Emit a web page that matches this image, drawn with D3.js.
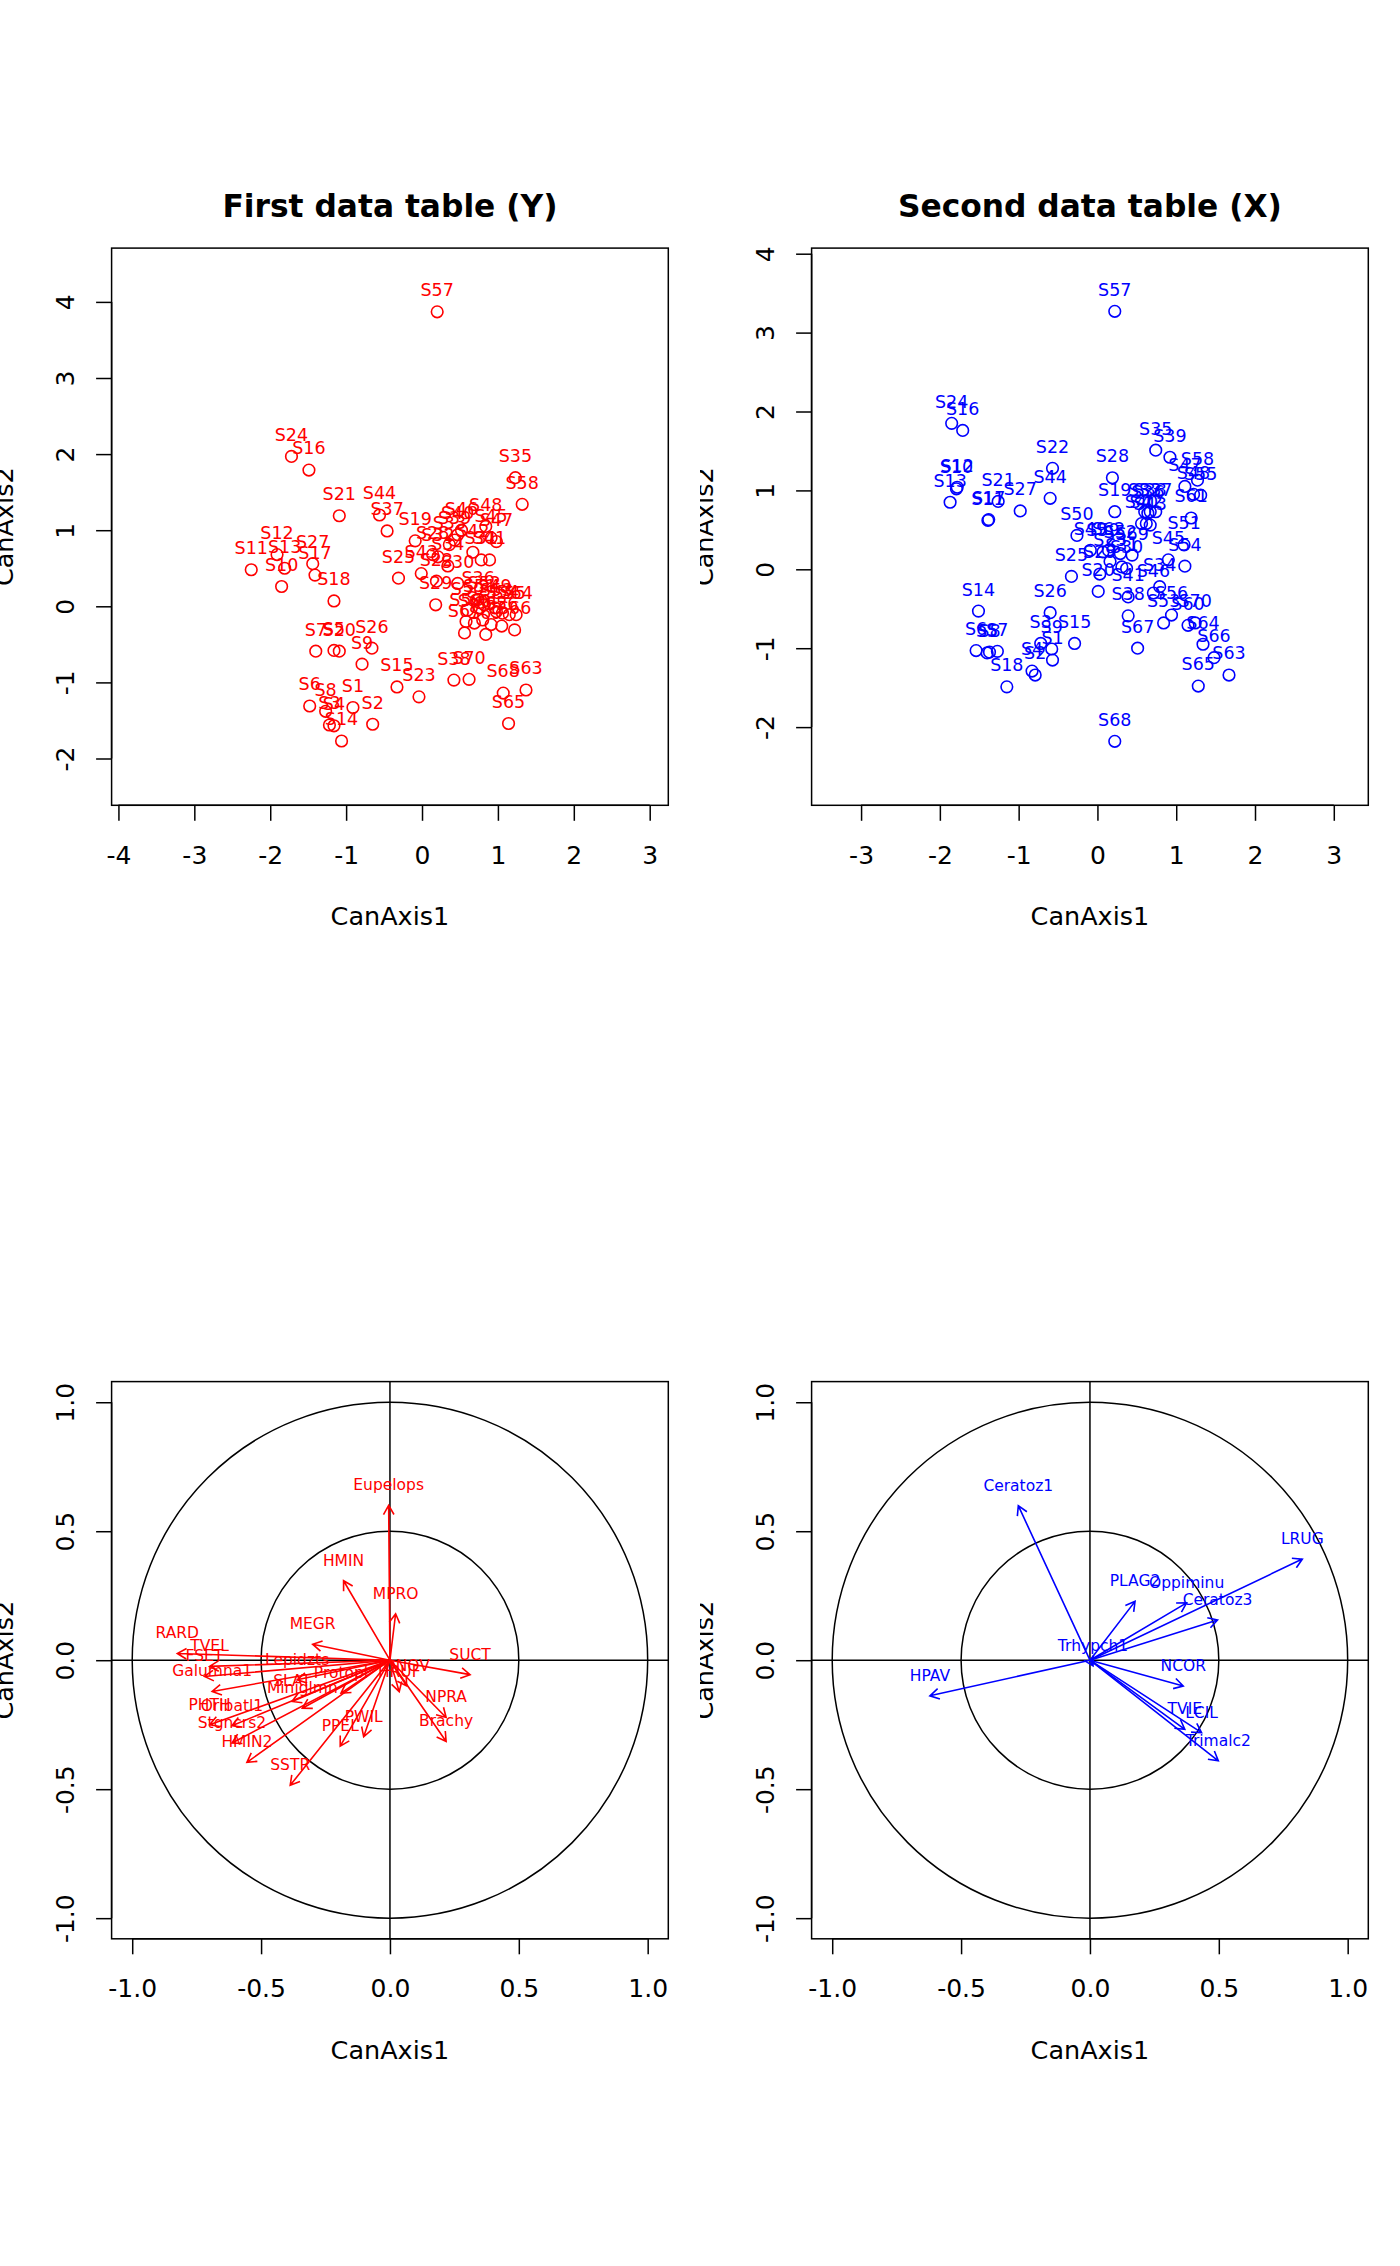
<!DOCTYPE html>
<html><head><meta charset="utf-8">
<script src="https://cdn.jsdelivr.net/npm/d3@7"></script>
<style>
html,body{margin:0;padding:0;background:#fff;}
svg{display:block;font-family:"DejaVu Sans",sans-serif;}
</style></head>
<body><svg id="chart" width="1400" height="2266"></svg>
<script>
// ---------- DATA ----------
const siteLabels = ["S1","S2","S3","S4","S5","S6","S7","S8","S9","S10","S11","S12","S13","S14","S15","S16","S17","S18","S19","S20",
"S21","S22","S23","S24","S25","S26","S27","S28","S29","S30","S31","S32","S33","S34","S35","S36","S37","S38","S39","S40",
"S41","S42","S43","S44","S45","S46","S47","S48","S49","S50","S51","S52","S53","S54","S55","S56","S57","S58","S59","S60",
"S61","S62","S63","S64","S65","S66","S67","S68","S69","S70"];

// First data table (Y): site scores
const yAxis1 = [-0.91,-0.65,-1.22,-1.16,-1.16,-1.48,-1.40,-1.27,-0.79,-1.85,-2.25,-1.91,-1.81,-1.06,-0.33,-1.49,-1.41,-1.16,-0.09,-1.09,
-1.09,0.19,-0.04,-1.72,-0.31,-0.66,-1.44,0.14,0.18,0.47,0.78,0.21,0.36,0.34,1.23,0.74,-0.46,0.42,0.43,0.47,
0.89,0.67,-0.01,-0.56,0.91,0.52,0.98,0.84,0.96,0.60,0.76,0.82,0.98,1.06,1.15,1.05,0.20,1.32,0.58,0.69,
0.80,0.91,1.37,1.24,1.14,1.22,0.56,1.07,0.84,0.62];
const yAxis2 = [-1.33,-1.55,-1.56,-1.57,-0.58,-1.31,-0.59,-1.38,-0.76,0.26,0.48,0.68,0.50,-1.77,-1.06,1.79,0.41,0.07,0.86,-0.59,
1.19,0.33,-1.19,1.97,0.37,-0.55,0.56,0.68,0.02,0.30,0.61,0.65,0.81,0.53,1.69,0.09,0.99,-0.97,0.87,0.94,
0.61,0.71,0.43,1.20,0.90,1.00,0.85,1.05,-0.02,-0.05,-0.02,0.02,-0.07,-0.09,-0.11,-0.26,3.87,1.34,-0.20,-0.22,
-0.18,-0.24,-1.10,-0.11,-1.54,-0.31,-0.35,-1.14,-0.37,-0.96];

// Second data table (X): site scores
const xAxis1 = [-0.57,-0.79,-0.72,-0.83,-1.40,-1.54,-1.27,-1.37,-0.58,-1.79,-1.39,-1.78,-1.87,-1.51,-0.29,-1.71,-1.38,-1.15,0.22,0.01,
-1.26,-0.57,0.16,-1.85,-0.33,-0.60,-0.98,0.19,0.03,0.37,0.31,0.60,0.67,0.79,0.74,0.64,0.74,0.39,0.92,0.56,
0.39,0.62,0.67,-0.60,0.90,0.71,1.11,1.22,-0.09,-0.26,1.10,0.29,0.84,1.11,1.31,0.94,0.22,1.27,0.07,1.15,
1.19,0.14,1.67,1.34,1.28,1.48,0.51,0.22,0.44,1.24];
const xAxis2 = [-1.15,-1.34,-0.94,-1.29,-1.06,-1.03,-1.04,-1.05,-1.01,1.02,0.62,1.04,0.85,-0.53,-0.94,1.76,0.63,-1.49,0.73,-0.28,
0.86,1.28,0.10,1.85,-0.09,-0.55,0.74,1.16,-0.06,0.01,0.03,0.73,0.73,-0.22,1.51,0.71,0.73,-0.59,1.42,0.58,
-0.35,0.58,0.56,0.90,0.12,-0.30,1.05,0.95,0.24,0.43,0.31,0.20,-0.68,0.04,0.94,-0.58,3.27,1.13,0.22,-0.71,
0.65,0.24,-1.34,-0.95,-1.48,-1.12,-1.00,-2.18,0.18,-0.68];

// Variable (species) correlations, Y table
const yVarNames = ["Eupelops","MPRO","HMIN","MEGR","RARD","TVEL","FSET","Galumna1","Lepidzts","Protopl","SLAT","Miniglmn",
"PHTH","Oribatl1","Stgncrs2","HMIN2","SSTR","PPEL","PWIL","NPRA","Brachy","SUCT","ONOV","HRUF"];
const yVarAx1 = [-0.005,0.022,-0.18,-0.30,-0.825,-0.70,-0.72,-0.69,-0.36,-0.19,-0.38,-0.34,
-0.70,-0.613,-0.613,-0.555,-0.387,-0.193,-0.102,0.218,0.218,0.311,0.065,0.036];
const yVarAx2 = [0.60,0.18,0.308,0.062,0.026,-0.024,-0.063,-0.121,-0.076,-0.128,-0.16,-0.186,
-0.25,-0.254,-0.321,-0.396,-0.485,-0.333,-0.297,-0.222,-0.315,-0.056,-0.10,-0.122];

// Variable (species) correlations, X table
const xVarNames = ["Ceratoz1","LRUG","PLAG2","Oppiminu","Ceratoz3","HPAV","NCOR","TVIE","LCIL","Trimalc2","Trhypch1"];
const xVarAx1 = [-0.278,0.824,0.175,0.375,0.495,-0.621,0.362,0.368,0.433,0.498,0.012];
const xVarAx2 = [0.599,0.392,0.228,0.222,0.156,-0.138,-0.10,-0.268,-0.281,-0.39,-0.022];

// Tick values and labels
const tlXTicks = [-4,-3,-2,-1,0,1,2,3];
const tlXTickLabels = ["-4","-3","-2","-1","0","1","2","3"];
const trXTicks = [-3,-2,-1,0,1,2,3];
const trXTickLabels = ["-3","-2","-1","0","1","2","3"];
const topYTicks = [-2,-1,0,1,2,3,4];
const topYTickLabels = ["-2","-1","0","1","2","3","4"];
const corTicks = [-1,-0.5,0,0.5,1];
const corTickLabels = ["-1.0","-0.5","0.0","0.5","1.0"];
const titles = ["First data table (Y)","Second data table (X)"];
const xTitle = "CanAxis1", yTitle = "CanAxis2";

// ---------- LAYOUT ----------
const svg = d3.select("#chart");
const FONT = "DejaVu Sans";
const panels = [
  {id:"tl", fx:0, fy:0, x0:111.6, x1:668.3, y0:248.1, y1:805.3, xd:[-4.09,3.245], yd:[-2.615,4.707],
   xt:tlXTicks, xtl:tlXTickLabels, yt:topYTicks, ytl:topYTickLabels, title:titles[0]},
  {id:"tr", fx:700, fy:0, x0:811.6, x1:1368.3, y0:248.1, y1:805.3, xd:[-3.628,3.438], yd:[-2.991,4.071],
   xt:trXTicks, xtl:trXTickLabels, yt:topYTicks, ytl:topYTickLabels, title:titles[1]},
  {id:"bl", fx:0, fy:1133, x0:111.6, x1:668.3, y0:1381.6, y1:1938.8, xd:[-1.08,1.08], yd:[-1.08,1.08],
   xt:corTicks, xtl:corTickLabels, yt:corTicks, ytl:corTickLabels, title:null},
  {id:"br", fx:700, fy:1133, x0:811.6, x1:1368.3, y0:1381.6, y1:1938.8, xd:[-1.08,1.08], yd:[-1.08,1.08],
   xt:corTicks, xtl:corTickLabels, yt:corTicks, ytl:corTickLabels, title:null}
];
const defs = svg.append("defs");

panels.forEach(p => {
  p.sx = d3.scaleLinear().domain(p.xd).range([p.x0,p.x1]);
  p.sy = d3.scaleLinear().domain(p.yd).range([p.y1,p.y0]);
  defs.append("clipPath").attr("id","fig-"+p.id).append("rect")
    .attr("x",p.fx).attr("y",p.fy).attr("width",700).attr("height",1133);
  const g = svg.append("g").attr("clip-path","url(#fig-"+p.id+")");
  p.g = g;

  // x axis
  const xa = d3.axisBottom(p.sx).tickValues(p.xt).tickSize(15.5)
    .tickFormat((d,i)=>p.xtl[i]);
  const gx = g.append("g").attr("transform",`translate(0,${p.y1})`).call(xa);
  gx.select(".domain").remove();
  gx.selectAll(".tick line").attr("stroke","#000").attr("stroke-width",1.5);
  gx.selectAll(".tick text").attr("y",58.7).attr("dy",0).attr("fill","#000")
    .attr("font-family",FONT).attr("font-size",25);
  gx.append("line").attr("x1",p.sx(p.xt[0])).attr("x2",p.sx(p.xt[p.xt.length-1]))
    .attr("y1",0).attr("y2",0).attr("stroke","#000").attr("stroke-width",1.5);

  // y axis
  const ya = d3.axisLeft(p.sy).tickValues(p.yt).tickSize(15.5)
    .tickFormat((d,i)=>p.ytl[i]);
  const gy = g.append("g").attr("transform",`translate(${p.x0},0)`).call(ya);
  gy.select(".domain").remove();
  gy.selectAll(".tick line").attr("stroke","#000").attr("stroke-width",1.5);
  gy.selectAll(".tick text").attr("x",0).attr("dy",0).attr("text-anchor","middle")
    .attr("transform",`translate(${-(p.x0-p.fx-74)},0) rotate(-90)`)
    .attr("fill","#000").attr("font-family",FONT).attr("font-size",25);
  gy.append("line").attr("y1",p.sy(p.yt[0])).attr("y2",p.sy(p.yt[p.yt.length-1]))
    .attr("x1",0).attr("x2",0).attr("stroke","#000").attr("stroke-width",1.5);

  // axis titles
  g.append("text").attr("x",(p.x0+p.x1)/2).attr("y",p.y1+119.7).attr("text-anchor","middle")
    .attr("font-family",FONT).attr("font-size",25.5).attr("fill","#000").text(xTitle);
  g.append("text").attr("transform",`translate(${p.fx+13},${(p.y0+p.y1)/2}) rotate(-90)`)
    .attr("text-anchor","middle").attr("font-family",FONT).attr("font-size",25.5).attr("fill","#000").text(yTitle);
  if (p.title) {
    g.append("text").attr("x",(p.x0+p.x1)/2).attr("y",217).attr("text-anchor","middle")
      .attr("font-family",FONT).attr("font-weight","bold").attr("font-size",31.3).attr("fill","#000").text(p.title);
  }
});

// ---------- SITE SCORE PLOTS ----------
function sitePlot(p, ax1, ax2, color) {
  const data = siteLabels.map((s,i)=>({lab:s, x:ax1[i], y:ax2[i]}));
  const pg = p.g.append("g");
  pg.selectAll("circle").data(data).join("circle")
    .attr("cx",d=>p.sx(d.x)).attr("cy",d=>p.sy(d.y)).attr("r",5.8)
    .attr("fill","none").attr("stroke",color).attr("stroke-width",1.6);
  pg.selectAll("text").data(data).join("text")
    .attr("x",d=>p.sx(d.x)).attr("y",d=>p.sy(d.y)-15.6).attr("text-anchor","middle")
    .attr("font-family",FONT).attr("font-size",17.5).attr("fill",color).text(d=>d.lab);
}
sitePlot(panels[0], yAxis1, yAxis2, "#ff0000");
sitePlot(panels[1], xAxis1, xAxis2, "#0000ff");

// ---------- CORRELATION CIRCLE PLOTS ----------
function corPlot(p, names, a1, a2, color) {
  const g = p.g.append("g");
  const cx = p.sx(0), cy = p.sy(0);
  [1,0.5].forEach(r=>{
    g.append("ellipse").attr("cx",cx).attr("cy",cy)
      .attr("rx",p.sx(r)-p.sx(0)).attr("ry",p.sy(0)-p.sy(r))
      .attr("fill","none").attr("stroke","#000").attr("stroke-width",1.5);
  });
  g.append("line").attr("x1",p.x0).attr("x2",p.x1).attr("y1",cy).attr("y2",cy)
    .attr("stroke","#000").attr("stroke-width",1.5);
  g.append("line").attr("x1",cx).attr("x2",cx).attr("y1",p.y0).attr("y2",p.y1)
    .attr("stroke","#000").attr("stroke-width",1.5);
  const data = names.map((n,i)=>({lab:n, x:a1[i], y:a2[i]}));
  const L = 10.5, ang = Math.PI/6;
  data.forEach(d=>{
    const tx = p.sx(d.x), ty = p.sy(d.y);
    const th = Math.atan2(ty-cy, tx-cx);
    const path = d3.path();
    path.moveTo(cx,cy); path.lineTo(tx,ty);
    path.moveTo(tx - L*Math.cos(th-ang), ty - L*Math.sin(th-ang));
    path.lineTo(tx,ty);
    path.lineTo(tx - L*Math.cos(th+ang), ty - L*Math.sin(th+ang));
    g.append("path").attr("d",path.toString()).attr("fill","none")
      .attr("stroke",color).attr("stroke-width",1.6);
  });
  g.selectAll("text.vl").data(data).join("text").attr("class","vl")
    .attr("x",d=>p.sx(d.x)).attr("y",d=>p.sy(d.y)-15).attr("text-anchor","middle")
    .attr("font-family",FONT).attr("font-size",15.5).attr("fill",color).text(d=>d.lab);
}
corPlot(panels[2], yVarNames, yVarAx1, yVarAx2, "#ff0000");
corPlot(panels[3], xVarNames, xVarAx1, xVarAx2, "#0000ff");

// plot boxes
panels.forEach(p=>{
  p.g.append("rect").attr("x",p.x0).attr("y",p.y0).attr("width",p.x1-p.x0).attr("height",p.y1-p.y0)
    .attr("fill","none").attr("stroke","#000").attr("stroke-width",1.5);
});
</script></body></html>
